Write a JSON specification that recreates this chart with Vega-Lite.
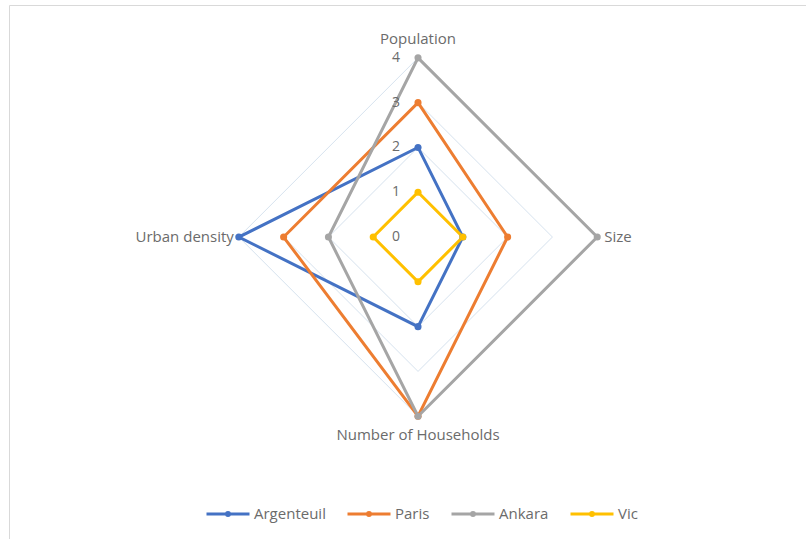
{
  "$schema": "https://vega.github.io/schema/vega-lite/v6.json",
  "width": 797,
  "height": 540,
  "autosize": {"type": "none"},
  "padding": {"left": 9, "top": 5, "right": 0, "bottom": 0},
  "config": {
    "view": {"stroke": "#d9d9d9", "strokeWidth": 1},
    "font": "Open Sans"
  },
  "data": {
    "values": [
      {"kind": "city", "series": "Argenteuil", "axis": "Population", "value": 2},
      {"kind": "city", "series": "Argenteuil", "axis": "Size", "value": 1},
      {"kind": "city", "series": "Argenteuil", "axis": "Number of Households", "value": 2},
      {"kind": "city", "series": "Argenteuil", "axis": "Urban density", "value": 4},
      {"kind": "city", "series": "Paris", "axis": "Population", "value": 3},
      {"kind": "city", "series": "Paris", "axis": "Size", "value": 2},
      {"kind": "city", "series": "Paris", "axis": "Number of Households", "value": 4},
      {"kind": "city", "series": "Paris", "axis": "Urban density", "value": 3},
      {"kind": "city", "series": "Ankara", "axis": "Population", "value": 4},
      {"kind": "city", "series": "Ankara", "axis": "Size", "value": 4},
      {"kind": "city", "series": "Ankara", "axis": "Number of Households", "value": 4},
      {"kind": "city", "series": "Ankara", "axis": "Urban density", "value": 2},
      {"kind": "city", "series": "Vic", "axis": "Population", "value": 1},
      {"kind": "city", "series": "Vic", "axis": "Size", "value": 1},
      {"kind": "city", "series": "Vic", "axis": "Number of Households", "value": 1},
      {"kind": "city", "series": "Vic", "axis": "Urban density", "value": 1},
      {"kind": "grid", "series": "ring1", "axis": "Population", "value": 1},
      {"kind": "grid", "series": "ring1", "axis": "Size", "value": 1},
      {"kind": "grid", "series": "ring1", "axis": "Number of Households", "value": 1},
      {"kind": "grid", "series": "ring1", "axis": "Urban density", "value": 1},
      {"kind": "grid", "series": "ring2", "axis": "Population", "value": 2},
      {"kind": "grid", "series": "ring2", "axis": "Size", "value": 2},
      {"kind": "grid", "series": "ring2", "axis": "Number of Households", "value": 2},
      {"kind": "grid", "series": "ring2", "axis": "Urban density", "value": 2},
      {"kind": "grid", "series": "ring3", "axis": "Population", "value": 3},
      {"kind": "grid", "series": "ring3", "axis": "Size", "value": 3},
      {"kind": "grid", "series": "ring3", "axis": "Number of Households", "value": 3},
      {"kind": "grid", "series": "ring3", "axis": "Urban density", "value": 3},
      {"kind": "grid", "series": "ring4", "axis": "Population", "value": 4},
      {"kind": "grid", "series": "ring4", "axis": "Size", "value": 4},
      {"kind": "grid", "series": "ring4", "axis": "Number of Households", "value": 4},
      {"kind": "grid", "series": "ring4", "axis": "Urban density", "value": 4},
      {"kind": "tick", "series": "ticks", "axis": "Population", "value": 0},
      {"kind": "tick", "series": "ticks", "axis": "Population", "value": 1},
      {"kind": "tick", "series": "ticks", "axis": "Population", "value": 2},
      {"kind": "tick", "series": "ticks", "axis": "Population", "value": 3},
      {"kind": "tick", "series": "ticks", "axis": "Population", "value": 4},
      {"kind": "label", "series": "labels", "axis": "Population", "value": 4},
      {"kind": "label", "series": "labels", "axis": "Size", "value": 4},
      {"kind": "label", "series": "labels", "axis": "Number of Households", "value": 4},
      {"kind": "label", "series": "labels", "axis": "Urban density", "value": 4}
    ]
  },
  "transform": [
    {"calculate": "indexof(['Population','Size','Number of Households','Urban density'], datum.axis)", "as": "idx"},
    {"calculate": "datum.axis === 'Size' ? datum.value : (datum.axis === 'Urban density' ? -datum.value : 0)", "as": "px"},
    {"calculate": "datum.axis === 'Population' ? datum.value : (datum.axis === 'Number of Households' ? -datum.value : 0)", "as": "py"}
  ],
  "encoding": {
    "x": {"field": "px", "type": "quantitative", "axis": null, "scale": {"domain": [-9.13, 8.66], "nice": false, "zero": false}},
    "y": {"field": "py", "type": "quantitative", "axis": null, "scale": {"domain": [-6.875, 5.18], "nice": false, "zero": false}}
  },
  "layer": [
    {
      "transform": [{"filter": "datum.kind === 'grid'"}],
      "mark": {"type": "line", "interpolate": "linear-closed", "stroke": "#d6e2ee", "strokeWidth": 1},
      "encoding": {
        "detail": {"field": "series"},
        "order": {"field": "idx", "type": "quantitative"}
      }
    },
    {
      "transform": [{"filter": "datum.kind === 'city'"}],
      "mark": {"type": "line", "interpolate": "linear-closed", "strokeWidth": 3},
      "encoding": {
        "order": {"field": "idx", "type": "quantitative"},
        "color": {
          "field": "series",
          "type": "nominal",
          "scale": {"domain": ["Argenteuil", "Paris", "Ankara", "Vic"], "range": ["#4472C4", "#ED7D31", "#A5A5A5", "#FFC000"]},
          "legend": {
            "orient": "none",
            "legendX": 196,
            "legendY": 486,
            "direction": "horizontal",
            "title": null,
            "padding": 0,
            "symbolType": "M-1,0H1M-0.07,0A0.07,0.07,0,1,1,0.07,0A0.07,0.07,0,1,1,-0.07,0",
            "symbolSize": 1849,
            "symbolStrokeWidth": 3,
            "labelFont": "Open Sans",
            "labelFontSize": 15,
            "labelColor": "#6b6b6b",
            "labelOffset": 3,
            "columnPadding": 15
          }
        }
      }
    },
    {
      "transform": [{"filter": "datum.kind === 'city'"}],
      "mark": {"type": "point", "filled": true, "size": 50, "opacity": 1},
      "encoding": {
        "color": {"field": "series", "type": "nominal", "legend": null}
      }
    },
    {
      "transform": [{"filter": "datum.kind === 'tick'"}],
      "mark": {"type": "text", "align": "right", "baseline": "middle", "dx": -18, "fontSize": 14, "color": "#6b6b6b"},
      "encoding": {"text": {"field": "value", "type": "quantitative"}}
    },
    {
      "transform": [{"filter": "datum.kind === 'label' && datum.axis === 'Population'"}],
      "mark": {"type": "text", "align": "center", "baseline": "middle", "dy": -19, "fontSize": 15, "color": "#6b6b6b"},
      "encoding": {"text": {"field": "axis"}}
    },
    {
      "transform": [{"filter": "datum.kind === 'label' && datum.axis === 'Size'"}],
      "mark": {"type": "text", "align": "left", "baseline": "middle", "dx": 7, "fontSize": 15, "color": "#6b6b6b"},
      "encoding": {"text": {"field": "axis"}}
    },
    {
      "transform": [{"filter": "datum.kind === 'label' && datum.axis === 'Number of Households'"}],
      "mark": {"type": "text", "align": "center", "baseline": "middle", "dy": 19, "fontSize": 15, "color": "#6b6b6b"},
      "encoding": {"text": {"field": "axis"}}
    },
    {
      "transform": [{"filter": "datum.kind === 'label' && datum.axis === 'Urban density'"}],
      "mark": {"type": "text", "align": "right", "baseline": "middle", "dx": -5, "fontSize": 15, "color": "#6b6b6b"},
      "encoding": {"text": {"field": "axis"}}
    }
  ]
}
